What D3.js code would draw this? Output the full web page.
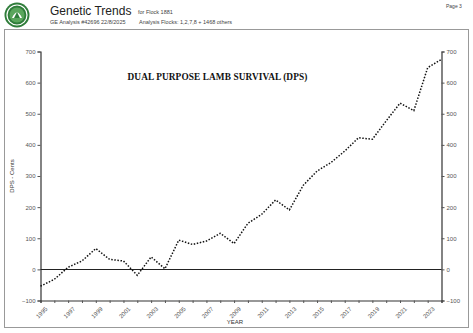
<!DOCTYPE html>
<html>
<head>
<meta charset="utf-8">
<script src="https://cdn.jsdelivr.net/npm/d3@7"></script>
<style>
  html, body { margin: 0; padding: 0; background: #fff; }
  svg { display: block; font-family: Arial, "Liberation Sans", sans-serif; }
</style>
</head>
<body>
<svg id="chart" width="473" height="333"></svg>
<script>
// Genetic trend for Dual Purpose Lamb Survival, by birth year
const years = [1995, 1996, 1997, 1998, 1999, 2000, 2001, 2002, 2003, 2004,
               2005, 2006, 2007, 2008, 2009, 2010, 2011, 2012, 2013, 2014,
               2015, 2016, 2017, 2018, 2019, 2020, 2021, 2022, 2023, 2024];
const dpsValues = [-54, -32, 7, 27, 67, 32, 27, -19, 40, 2,
                   94, 80, 91, 116, 83, 148, 177, 223, 191, 270,
                   316, 343, 380, 423, 418, 477, 534, 510, 648, 675];
const yTicks = [-100, 0, 100, 200, 300, 400, 500, 600, 700];
const xLabelYears = [1995, 1997, 1999, 2001, 2003, 2005, 2007, 2009, 2011,
                     2013, 2015, 2017, 2019, 2021, 2023];

const svg = d3.select("#chart");

// Page header
const logo = svg.append("g").attr("transform", "translate(17,15)");
logo.append("circle").attr("r", 12.5).attr("fill", "#2f7d3a");
logo.append("circle").attr("r", 10).attr("fill", "none").attr("stroke", "#fff").attr("stroke-width", 1.2);
logo.append("circle").attr("r", 7.5).attr("fill", "#5aa65c");
logo.append("path").attr("d", "M-5,3 Q0,-8 5,3 Z").attr("fill", "#fff");
logo.append("path").attr("d", "M-3,3 L3,3 L0,-3 Z").attr("fill", "#2f7d3a");

svg.append("text").attr("x", 50).attr("y", 15).attr("font-size", 12).attr("fill", "#222").text("Genetic Trends");
svg.append("text").attr("x", 138).attr("y", 14).attr("font-size", 5.5).attr("fill", "#444").text("for Flock 1881");
svg.append("text").attr("x", 50).attr("y", 24).attr("font-size", 5.5).attr("fill", "#444").text("GE Analysis #42696 22/8/2025");
svg.append("text").attr("x", 139).attr("y", 24).attr("font-size", 5.5).attr("fill", "#444").text("Analysis Flocks: 1,2,7,8 + 1468 others");
svg.append("text").attr("x", 446).attr("y", 8).attr("font-size", 5).attr("fill", "#444").text("Page 3");

// Outer frame
svg.append("rect").attr("x", 4.5).attr("y", 29.5).attr("width", 464).attr("height", 298)
   .attr("fill", "none").attr("stroke", "#999").attr("stroke-width", 1);

// Plot scales
const x = d3.scaleLinear().domain([1995, 2024]).range([40.5, 441.5]);
const y = d3.scaleLinear().domain([-100, 700]).range([300.5, 51.5]);

const tickColor = "#555";

// Left axis
const leftAxis = svg.append("g").attr("transform", "translate(40.5,0)")
  .call(d3.axisLeft(y).tickValues(yTicks).tickSize(3).tickPadding(2).tickFormat(d3.format("d")));
// Right axis
const rightAxis = svg.append("g").attr("transform", "translate(441.5,0)")
  .call(d3.axisRight(y).tickValues(yTicks).tickSize(3).tickPadding(2).tickFormat(d3.format("d")));
[leftAxis, rightAxis].forEach(g => {
  g.select(".domain").attr("stroke", "#333").attr("stroke-width", 1.2);
  g.selectAll(".tick line").attr("stroke", "#555");
  g.selectAll(".tick text").attr("font-size", 6).attr("fill", tickColor).attr("font-family", "Arial, sans-serif");
});

// Bottom axis: a tick every year, labelled every second year
const bottomAxis = svg.append("g").attr("transform", "translate(0,300.5)")
  .call(d3.axisBottom(x).tickValues(years).tickSize(2.5).tickFormat(d => xLabelYears.includes(d) ? d : ""));
bottomAxis.select(".domain").attr("stroke", "#333").attr("stroke-width", 1.2);
bottomAxis.selectAll(".tick line").attr("stroke", "#555");
bottomAxis.selectAll(".tick text")
  .attr("font-size", 6).attr("fill", tickColor).attr("font-family", "Arial, sans-serif")
  .attr("text-anchor", "end").attr("dy", 0)
  .attr("transform", "translate(3,5) rotate(-45)");

// Zero reference line
svg.append("line")
  .attr("x1", x(1995)).attr("x2", x(2024))
  .attr("y1", Math.round(y(0)) + 0.5).attr("y2", Math.round(y(0)) + 0.5)
  .attr("stroke", "#222").attr("stroke-width", 1);

// Trend line
svg.append("path")
  .datum(years.map((yr, i) => [yr, dpsValues[i]]))
  .attr("fill", "none").attr("stroke", "#111").attr("stroke-width", 1.5)
  .attr("stroke-dasharray", "1.5,1.6")
  .attr("d", d3.line().x(d => x(d[0])).y(d => y(d[1])));

// Chart title
svg.append("text").attr("x", 217.5).attr("y", 80).attr("text-anchor", "middle")
  .attr("font-family", "'Liberation Serif', 'DejaVu Serif', serif").attr("font-size", 9.3)
  .attr("font-weight", "bold").attr("letter-spacing", 0.1).attr("fill", "#111")
  .text("DUAL PURPOSE LAMB SURVIVAL (DPS)");

// Axis titles
svg.append("text").attr("transform", "translate(14,176) rotate(-90)").attr("text-anchor", "middle")
  .attr("font-size", 6).attr("fill", "#333").text("DPS - Cents");
svg.append("text").attr("x", 235).attr("y", 324).attr("text-anchor", "middle")
  .attr("font-size", 6).attr("fill", "#333").text("YEAR");
</script>
</body>
</html>
